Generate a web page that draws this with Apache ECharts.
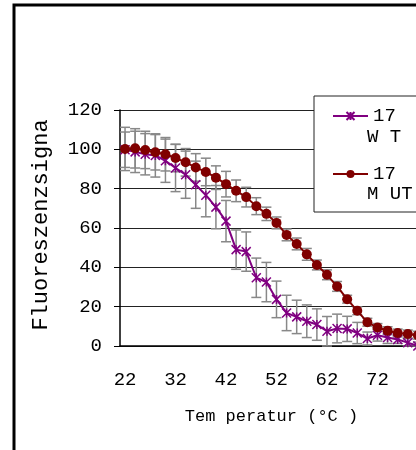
<!DOCTYPE html>
<html>
<head>
<meta charset="utf-8">
<script src="https://cdn.jsdelivr.net/npm/echarts@6/dist/echarts.min.js"></script>
<style>
  html, body { margin: 0; padding: 0; background: #fff; }
  #chart { width: 416px; height: 450px; }
</style>
</head>
<body>
<div id="chart"></div>
<script>
// temperature steps (°C), the right part of the original chart is cut off
const temperatures = ['22', '24', '26', '28', '30', '32', '34', '36', '38', '40', '42', '44', '46', '48', '50', '52',
  '54', '56', '58', '60', '62', '64', '66', '68', '70', '72', '74', '76', '78', '80', '82']

const wtValues = [99.8, 98.7, 97.5, 96.9, 94.2, 90.5, 87.1, 82.0, 76.7, 70.6, 63.5, 49.0, 48.0, 34.7, 32.5, 23.7,
  16.8, 14.8, 12.6, 10.9, 7.5, 8.9, 8.7, 6.6, 3.8, 5.5, 4.3, 3.3, 1.7, 0.0, null]
const wtErrors = [9, 10.5, 10.5, 11, 11, 12, 12, 12, 11, 11, 10.5, 10, 10, 10, 10, 9.3,
  9, 8.5, 8.3, 8, 7.5, 7.3, 6.4, 5.4, 3.3, 3, 3, 2, 2, 2, null]

const mutValues = [100.2, 100.5, 99.7, 98.5, 97.5, 95.6, 93.4, 90.8, 88.5, 85.6, 82.3, 78.9, 75.7, 71.1, 67.2, 62.6,
  56.5, 51.9, 46.6, 41.2, 36.2, 30.3, 23.8, 17.9, 12.1, 9.4, 7.8, 6.6, 6.1, 5.5, null]
const mutErrors = [11, 10, 9.5, 9, 8.5, 7, 7, 7, 7, 6, 6.5, 5.5, 5, 4.3, 3.4, 3,
  3, 3, 3, 2.5, 2.5, 2.5, 2, 2, 2, 2, 2, 2, 2, 2, null]

const yTicks = { min: 0, max: 120, interval: 20 }

const FONT = '"Liberation Mono", "Courier New", monospace'
const WT_COLOR = '#800080'
const MUT_COLOR = '#800000'
const ERR_COLOR = '#888'
const STAR = 'path://M0,0L10,10M10,0L0,10M5,0L5,10'

function errorBars(name, values, errors) {
  const data = []
  values.forEach((v, i) => {
    if (v === null) return
    data.push([i, Math.max(0, v - errors[i]), v + errors[i]])
  })
  return {
    type: 'custom',
    name: name,
    z: 1,
    silent: true,
    data: data,
    encode: { x: 0, y: [1, 2] },
    renderItem(params, api) {
      const lo = api.coord([api.value(0), api.value(1)])
      const hi = api.coord([api.value(0), api.value(2)])
      const cap = 5
      const style = { stroke: ERR_COLOR, lineWidth: 1.5 }
      return {
        type: 'group',
        children: [
          { type: 'line', shape: { x1: hi[0], y1: hi[1], x2: lo[0], y2: lo[1] }, style: style },
          { type: 'line', shape: { x1: hi[0] - cap, y1: hi[1], x2: hi[0] + cap, y2: hi[1] }, style: style },
          { type: 'line', shape: { x1: lo[0] - cap, y1: lo[1], x2: lo[0] + cap, y2: lo[1] }, style: style }
        ]
      }
    }
  }
}

const chart = echarts.init(document.getElementById('chart'))

chart.setOption({
  animation: false,
  backgroundColor: '#fff',
  grid: { left: 120, top: 110, width: 313, height: 236, outerBoundsMode: 'none', containLabel: false },
  xAxis: {
    type: 'category',
    data: temperatures,
    boundaryGap: true,
    name: 'Tem peratur (°C )',
    nameLocation: 'middle',
    nameGap: 62,
    nameTextStyle: { fontFamily: FONT, fontSize: 17, color: '#000', padding: [0, 10, 0, 0] },
    axisLine: { lineStyle: { color: '#000', width: 1.5 } },
    axisTick: { interval: 0, length: 6, lineStyle: { color: '#000', width: 1 } },
    axisLabel: { interval: 4, margin: 24, fontFamily: FONT, fontSize: 19, color: '#000' },
    splitLine: { show: false }
  },
  yAxis: {
    type: 'value',
    min: yTicks.min,
    max: yTicks.max,
    interval: yTicks.interval,
    name: 'Fluoreszenzsigna',
    nameLocation: 'middle',
    nameGap: 68,
    nameTextStyle: { fontFamily: FONT, fontSize: 22, color: '#000', padding: [0, 0, 0, 6] },
    axisLine: { show: true, lineStyle: { color: '#000', width: 1.5 } },
    axisTick: { show: true, length: 6, lineStyle: { color: '#000' } },
    axisLabel: { margin: 18, fontFamily: FONT, fontSize: 19, color: '#000' },
    splitLine: { lineStyle: { color: '#222', width: 1 } }
  },
  legend: {
    orient: 'vertical',
    left: 327,
    top: 101,
    z: 60,
    itemWidth: 35,
    itemHeight: 10,
    itemGap: 38,
    selectedMode: false,
    data: ['17 WT', '17 MUT'],
    formatter: name => name.split(' ')[0],
    textStyle: { fontFamily: FONT, fontSize: 19, color: '#000', lineHeight: 20 }
  },
  graphic: [
    {
      type: 'rect', z: 50,
      shape: { x: 314, y: 96, width: 200, height: 116 },
      style: { fill: '#fff', stroke: '#222', lineWidth: 1 }
    },
    {
      type: 'text', z: 61, left: 367, top: 127,
      style: { text: 'W T', font: '19px ' + FONT, fill: '#000' }
    },
    {
      type: 'text', z: 61, left: 367, top: 184,
      style: { text: 'M UT', font: '19px ' + FONT, fill: '#000' }
    },
    {
      type: 'rect', z: 70,
      shape: { x: 14, y: 5, width: 1000, height: 1000 },
      style: { fill: 'none', stroke: '#000', lineWidth: 3 }
    }
  ],
  series: [
    errorBars('WT err', wtValues, wtErrors),
    errorBars('MUT err', mutValues, mutErrors),
    {
      name: '17 WT',
      type: 'line',
      z: 3,
      data: wtValues,
      symbol: STAR,
      symbolSize: 9,
      showAllSymbol: true,
      itemStyle: { color: WT_COLOR, borderColor: WT_COLOR, borderWidth: 1.5 },
      lineStyle: { color: WT_COLOR, width: 2 },
      emphasis: { disabled: true }
    },
    {
      name: '17 MUT',
      type: 'line',
      z: 4,
      data: mutValues,
      symbol: 'circle',
      symbolSize: 10,
      showAllSymbol: true,
      itemStyle: { color: MUT_COLOR },
      lineStyle: { color: MUT_COLOR, width: 2 },
      emphasis: { disabled: true }
    }
  ]
})
</script>
</body>
</html>
